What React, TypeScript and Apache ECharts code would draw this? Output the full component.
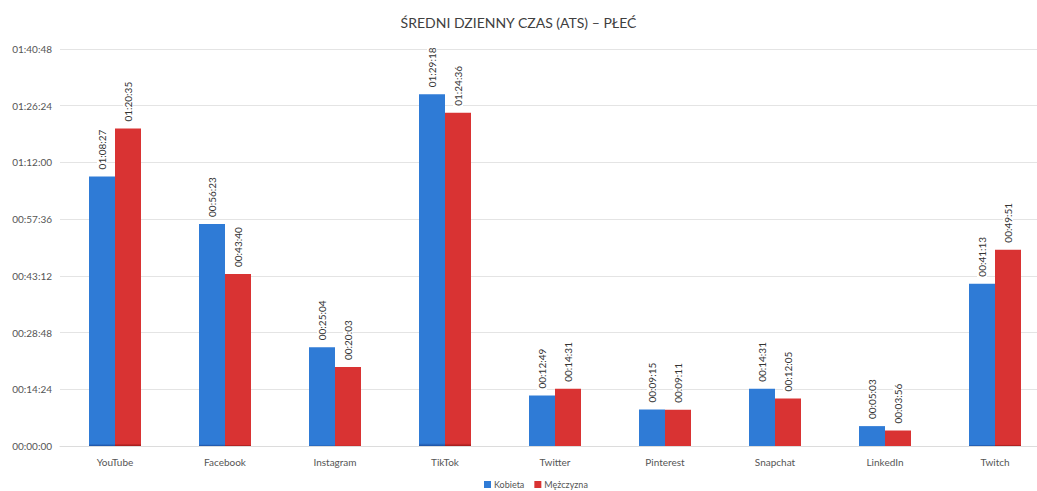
import React, { useEffect, useRef } from "react";
import * as echarts from "echarts";

const categories = ["YouTube", "Facebook", "Instagram", "TikTok", "Twitter", "Pinterest", "Snapchat", "LinkedIn", "Twitch"];
const kobieta = ["01:08:27", "00:56:23", "00:25:04", "01:29:18", "00:12:49", "00:09:15", "00:14:31", "00:05:03", "00:41:13"];
const mezczyzna = ["01:20:35", "00:43:40", "00:20:03", "01:24:36", "00:14:31", "00:09:11", "00:12:05", "00:03:56", "00:49:51"];
const seriesNames = ["Kobieta", "Mężczyzna"];

const toSec = (s: string) => {
  const [h, m, x] = s.split(":").map(Number);
  return h * 3600 + m * 60 + x;
};
const fmt = (v: number) => {
  const h = Math.floor(v / 3600);
  const m = Math.floor((v % 3600) / 60);
  const s = Math.round(v % 60);
  const p = (n: number) => String(n).padStart(2, "0");
  return `${p(h)}:${p(m)}:${p(s)}`;
};

const FONT = "Lato";

export default function App() {
  const ref = useRef<HTMLDivElement>(null);
  useEffect(() => {
    document.body.style.margin = "0";
    const chart = echarts.init(ref.current!, null, { renderer: "svg" });
    const mkLabel = () => ({
      show: true,
      position: "top" as const,
      rotate: 90,
      align: "left" as const,
      verticalAlign: "middle" as const,
      distance: 5,
      fontSize: 10,
      fontFamily: FONT,
      color: "#333",
      backgroundColor: "#fff",
      padding: [0, 2],
      formatter: (p: any) => fmt(p.value),
    });
    const grad = (c1: string, c2: string) =>
      new echarts.graphic.LinearGradient(0, 0, 0, 1, [
        { offset: 0, color: c1 },
        { offset: 0.992, color: c1 },
        { offset: 1, color: c2 },
      ]);
    chart.setOption({
      animation: false,
      backgroundColor: "#fff",
      title: {
        text: "ŚREDNI DZIENNY CZAS (ATS) – PŁEĆ",
        left: "center",
        top: 10,
        textStyle: { fontSize: 14, fontWeight: "normal", color: "#404040", fontFamily: FONT },
      },
      legend: {
        bottom: -3,
        left: 479,
        itemWidth: 7,
        itemHeight: 7,
        itemGap: 10,
        icon: "rect",
        textStyle: { fontSize: 9, color: "#555", fontFamily: FONT, padding: [0, 0, 0, -2] },
        data: seriesNames,
      },
      grid: { left: 60, width: 990, top: 49, bottom: 45, containLabel: false, outerBoundsMode: "none" },
      xAxis: {
        type: "category",
        data: categories,
        axisLine: { show: true, lineStyle: { color: "#dcdcdc" } },
        axisTick: { show: false },
        axisLabel: { fontSize: 10, color: "#555", fontFamily: FONT, margin: 11 },
      },
      yAxis: {
        type: "value",
        min: 0,
        max: 6048,
        interval: 864,
        axisLabel: { fontSize: 10, color: "#555", fontFamily: FONT, formatter: (v: number) => fmt(v), margin: 8, align: "right" },
        splitLine: { lineStyle: { color: "#e4e4e4" } },
        axisLine: { show: false },
        axisTick: { show: false },
      },
      series: [
        {
          name: seriesNames[0],
          type: "bar",
          data: kobieta.map(toSec),
          barWidth: 26,
          barGap: "0%",
          itemStyle: { color: grad("#2f7bd6", "#1d4fa0") },
          label: mkLabel(),
        },
        {
          name: seriesNames[1],
          type: "bar",
          data: mezczyzna.map(toSec),
          barWidth: 26,
          itemStyle: { color: grad("#d93333", "#9e1a1a") },
          label: mkLabel(),
        },
      ],
    });
    return () => chart.dispose();
  }, []);
  return <div ref={ref} style={{ position: "absolute", left: 0, top: 0, width: 1037, height: 491 }} />;
}
